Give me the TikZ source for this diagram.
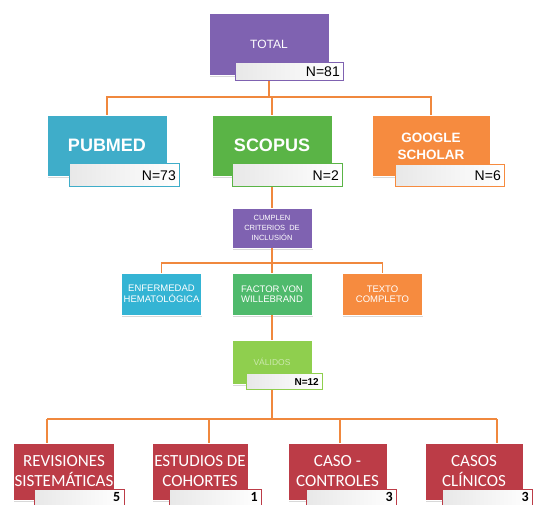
\documentclass[tikz,border=0pt]{standalone}
\usepackage{fontspec}
\setmainfont{Liberation Sans}
\newfontfamily\carlito{Carlito}
\usetikzlibrary{shadows}
\definecolor{violeta}{HTML}{7F62B1}
\definecolor{celeste}{HTML}{3FADC9}
\definecolor{verde}{HTML}{5AB446}
\definecolor{naranja}{HTML}{F68B3F}
\definecolor{cian}{HTML}{34B4D4}
\definecolor{menta}{HTML}{4FBA6C}
\definecolor{lima}{HTML}{8FCF4E}
\definecolor{rojo}{HTML}{BC3C47}
\definecolor{enlacec}{HTML}{F0883E}

\begin{document}
\begin{tikzpicture}[x=1pt,y=-1pt]
        \tikzstyle{every node}=[inner sep=1pt, align=center, text=white]
        \tikzstyle{caja}=[draw=white, line width=0.6pt, drop shadow={opacity=0.3, shadow xshift=0.6pt, shadow yshift=-1.8pt}]
        \tikzstyle{fuente}=[caja, minimum width=120pt, minimum height=61pt, font=\fontsize{18}{20}\selectfont\bfseries]
        \tikzstyle{filtro}=[caja, minimum width=80pt, minimum height=42pt, font=\fontsize{9.5}{10.5}\selectfont]
        \tikzstyle{estudio}=[caja, fill=rojo, minimum width=98pt, minimum height=57pt, font=\carlito\fontsize{17}{20}\selectfont]
        \tikzstyle{cifra}=[draw, line width=1pt, left color=black!9, right color=white, anchor=north east, text=black, align=right, inner xsep=4pt]
        \tikzstyle{cuenta}=[cifra, draw=rojo, text width=82pt, text height=10pt, text depth=10pt, inner ysep=1.5pt, font=\carlito\fontsize{14}{16}\selectfont\bfseries]
        \tikzstyle{enlace}=[draw=enlacec, line width=1.4pt]
        \fill[white] (0,0) rectangle (535,504);
        \useasboundingbox (0,0) rectangle (535,504);
        \clip (0,0) rectangle (535,504);

        \node[caja, fill=violeta, minimum width=120pt, minimum height=62pt, font=\fontsize{12}{14}\selectfont] (total) at (269,44) {TOTAL};
        \node[fuente, fill=celeste] (pubmed) at (107,145.5) {PUBMED};
        \node[fuente, fill=verde] (scopus) at (272,145.5) {SCOPUS};
        \node[fuente, fill=naranja, minimum width=118pt, font=\fontsize{13.5}{17}\selectfont\bfseries] (google) at (431,146) {GOOGLE\\SCHOLAR};
        \node[filtro, fill=violeta, minimum height=40pt, font=\fontsize{7.5}{10}\selectfont] (criterios) at (272,228) {CUMPLEN\\CRITERIOS \ DE\\INCLUSIÓN};
        \node[filtro, fill=cian] (hemato) at (161.5,294) {ENFERMEDAD\\HEMATOLÓGICA};
        \node[filtro, fill=menta] (factor) at (272,294) {FACTOR VON\\WILLEBRAND};
        \node[filtro, fill=naranja] (texto) at (382.5,294) {TEXTO\\COMPLETO};
        \node[filtro, fill=lima, minimum height=44pt, text=white!55!lima, font=\fontsize{8.5}{10}\selectfont] (validos) at (272,362) {VÁLIDOS};
        \node[estudio] (revisiones) at (64,471.5) {REVISIONES\\SISTEMÁTICAS};
        \node[estudio, minimum width=96pt] (cohortes) at (200,471.5) {ESTUDIOS DE\\COHORTES};
        \node[estudio, minimum width=99pt] (controles) at (337.5,471.5) {CASO -\\CONTROLES};
        \node[estudio] (clinicos) at (474,471.5) {CASOS\\CLÍNICOS};

        \coordinate (bus1) at (0,97);
        \coordinate (bus2) at (0,263);
        \coordinate (r1) at (47,419);
        \coordinate (r2) at (209,419);
        \coordinate (r3) at (340,419);
        \coordinate (r4) at (497,419);
        \draw[enlace] (total.south) -- (total.south |- bus1);
        \draw[enlace] (pubmed.north) -- (pubmed.north |- bus1) -- (google.north |- bus1) -- (google.north);
        \draw[enlace] (scopus.north) -- (scopus.north |- bus1);
        \draw[enlace] (scopus.south) -- (criterios.north);
        \draw[enlace] (criterios.south) -- (criterios.south |- bus2);
        \draw[enlace] (hemato.north) -- (hemato.north |- bus2) -- (texto.north |- bus2) -- (texto.north);
        \draw[enlace] (factor.north) -- (factor.north |- bus2);
        \draw[enlace] (factor.south) -- (validos.north);
        \draw[enlace] (validos.south) -- (validos.south |- r1);
        \draw[enlace] (r1) -- (r4);
        \draw[enlace] (r1) -- (r1 |- revisiones.north);
        \draw[enlace] (r2) -- (r2 |- cohortes.north);
        \draw[enlace] (r3) -- (r3 |- controles.north);
        \draw[enlace] (r4) -- (r4 |- clinicos.north);

        \node[cifra, draw=violeta, text width=100pt, minimum height=18pt, font=\fontsize{14}{16}\selectfont] (n81) at ([shift={(15pt,13pt)}]total.south east) {N=81};
        \node[cifra, draw=celeste, text width=102pt, minimum height=23pt, font=\fontsize{14}{16}\selectfont] (n73) at ([shift={(13pt,13pt)}]pubmed.south east) {N=73};
        \node[cifra, draw=verde, text width=102pt, minimum height=23pt, font=\fontsize{14}{16}\selectfont] (n2) at ([shift={(11pt,13pt)}]scopus.south east) {N=2};
        \node[cifra, draw=naranja, text width=101pt, minimum height=22pt, font=\fontsize{14}{16}\selectfont] (n6) at ([shift={(15pt,13pt)}]google.south east) {N=6};
        \node[cifra, draw=lima, text width=68pt, minimum height=16pt, font=\fontsize{10}{12}\selectfont\bfseries] (n12) at ([shift={(11pt,11pt)}]validos.south east) {N=12};
        \node[cuenta] (n5) at ([shift={(10pt,11pt)}]revisiones.south east) {5};
        \node[cuenta, text width=84pt] (n1) at ([shift={(14pt,11pt)}]cohortes.south east) {1};
        \node[cuenta] (n3a) at ([shift={(10pt,11pt)}]controles.south east) {3};
        \node[cuenta] (n3b) at ([shift={(10pt,11pt)}]clinicos.south east) {3};
\end{tikzpicture}
\end{document}
